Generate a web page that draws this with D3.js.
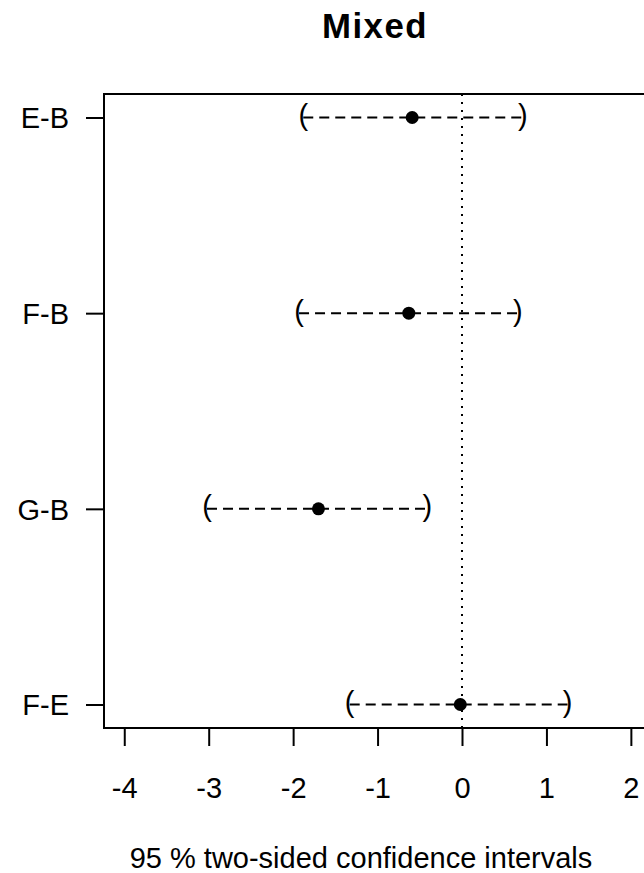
<!DOCTYPE html>
<html>
<head>
<meta charset="utf-8">
<script src="https://cdn.jsdelivr.net/npm/d3@7"></script>
<style>
  body { margin: 0; background: #fff; }
  text { font-family: "Liberation Sans", Arial, sans-serif; fill: #000; }
</style>
</head>
<body>
<main></main>
<script>
const comparisons = ["E-B", "F-B", "G-B", "F-E"]
const estimate = [-0.59, -0.63, -1.70, -0.02]
const lower = [-1.88, -1.93, -3.02, -1.33]
const upper = [0.72, 0.66, -0.41, 1.25]
const xTicks = [-4, -3, -2, -1, 0, 1, 2]

const size = { width: 644, height: 873 }
const box = { left: 104, right: 820, top: 94, bottom: 728 }
const fontSize = 29

const svg = d3.select('main')
  .append('svg')
  .attr('width', size.width)
  .attr('height', size.height)

const x = d3.scaleLinear()
  .domain([-4.24, 4.24])
  .range([box.left, box.right])

// categories sit at 1..n, R style with 4% padding
const y = d3.scaleLinear()
  .domain([0.88, comparisons.length + 0.12])
  .range([box.top, box.bottom])

// title
svg.append('text')
  .attr('x', 375)
  .attr('y', 38)
  .attr('text-anchor', 'middle')
  .style('font-size', (fontSize * 1.2) + 'px')
  .style('font-weight', 'bold')
  .style('letter-spacing', '1.5px')
  .text('Mixed')

// reference line at zero
svg.append('line')
  .attr('x1', x(0)).attr('x2', x(0))
  .attr('y1', box.top).attr('y2', box.bottom)
  .attr('stroke', '#000')
  .attr('stroke-width', 2)
  .attr('stroke-dasharray', '2,6')

// box
svg.append('rect')
  .attr('x', box.left)
  .attr('y', box.top)
  .attr('width', box.right - box.left)
  .attr('height', box.bottom - box.top)
  .attr('fill', 'none')
  .attr('stroke', '#000')
  .attr('stroke-width', 2)

// x axis
const xAxis = svg.append('g')
  .attr('transform', `translate(0,${box.bottom})`)
  .call(d3.axisBottom(x).tickValues(xTicks).tickSize(18).tickFormat((d) => String(d)))
xAxis.select('.domain').remove()
xAxis.selectAll('.tick line').attr('stroke-width', 2)
xAxis.selectAll('.tick text')
  .attr('y', 70)
  .attr('dy', null)
  .style('font-size', fontSize + 'px')
  .style('font-family', '"Liberation Sans", Arial, sans-serif')

// y axis
const yAxis = svg.append('g')
  .attr('transform', `translate(${box.left},0)`)
  .call(d3.axisLeft(y)
    .tickValues(comparisons.map((d, i) => i + 1))
    .tickSize(18)
    .tickFormat((d) => comparisons[d - 1]))
yAxis.select('.domain').remove()
yAxis.selectAll('.tick line').attr('stroke-width', 2)
yAxis.selectAll('.tick text')
  .attr('x', -35)
  .attr('dy', '0.36em')
  .style('font-size', fontSize + 'px')
  .style('font-family', '"Liberation Sans", Arial, sans-serif')

// intervals
const rows = svg.append('g')
  .selectAll('g')
  .data(comparisons)
  .enter()
  .append('g')

rows.append('line')
  .attr('x1', (d, i) => x(lower[i]))
  .attr('x2', (d, i) => x(upper[i]))
  .attr('y1', (d, i) => y(i + 1))
  .attr('y2', (d, i) => y(i + 1))
  .attr('stroke', '#000')
  .attr('stroke-width', 2)
  .attr('stroke-dasharray', '10,6')

rows.append('text')
  .attr('x', (d, i) => x(lower[i]))
  .attr('y', (d, i) => y(i + 1) + 7.5)
  .attr('text-anchor', 'middle')
  .style('font-size', fontSize + 'px')
  .text('(')

rows.append('text')
  .attr('x', (d, i) => x(upper[i]))
  .attr('y', (d, i) => y(i + 1) + 7.5)
  .attr('text-anchor', 'middle')
  .style('font-size', fontSize + 'px')
  .text(')')

rows.append('circle')
  .attr('cx', (d, i) => x(estimate[i]))
  .attr('cy', (d, i) => y(i + 1))
  .attr('r', 6.5)
  .attr('fill', '#000')

// x label
svg.append('text')
  .attr('x', 361)
  .attr('y', 868)
  .attr('text-anchor', 'middle')
  .style('font-size', fontSize + 'px')
  .text('95 % two-sided confidence intervals')
</script>
</body>
</html>
